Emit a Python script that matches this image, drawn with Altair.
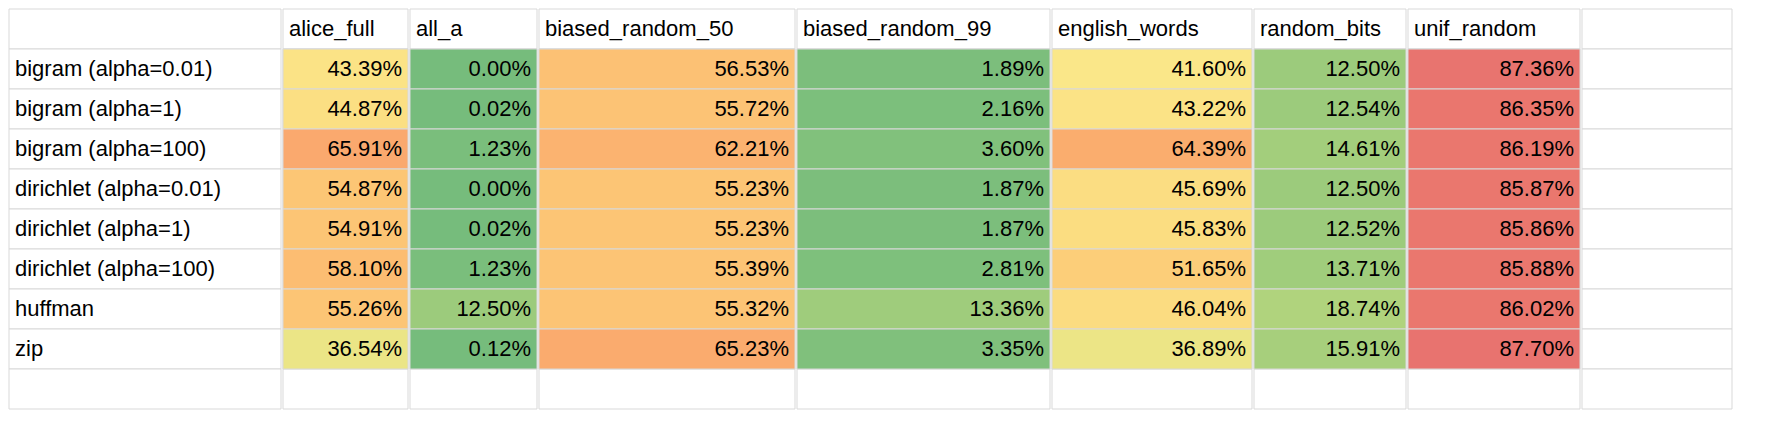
import altair as alt
import pandas as pd

rows = ["bigram (alpha=0.01)", "bigram (alpha=1)", "bigram (alpha=100)",
        "dirichlet (alpha=0.01)", "dirichlet (alpha=1)", "dirichlet (alpha=100)",
        "huffman", "zip"]
columns = ["alice_full", "all_a", "biased_random_50", "biased_random_99",
           "english_words", "random_bits", "unif_random"]
values = {
    "alice_full": [43.39, 44.87, 65.91, 54.87, 54.91, 58.10, 55.26, 36.54],
    "all_a": [0.00, 0.02, 1.23, 0.00, 0.02, 1.23, 12.50, 0.12],
    "biased_random_50": [56.53, 55.72, 62.21, 55.23, 55.23, 55.39, 55.32, 65.23],
    "biased_random_99": [1.89, 2.16, 3.60, 1.87, 1.87, 2.81, 13.36, 3.35],
    "english_words": [41.60, 43.22, 64.39, 45.69, 45.83, 51.65, 46.04, 36.89],
    "random_bits": [12.50, 12.54, 14.61, 12.50, 12.52, 13.71, 18.74, 15.91],
    "unif_random": [87.36, 86.35, 86.19, 85.87, 85.86, 85.88, 86.02, 87.70],
}
col_widths = [125, 127, 256, 253, 200, 152, 172]
label_width = 272
extra_width = 150

order = ["_header"] + rows + ["_blank"]
FONT = "Liberation Sans"
FS = 22
H = 400
yscale = alt.Scale(domain=order, paddingInner=0, paddingOuter=0)
cscale = alt.Scale(domain=[0, 41, 87.7], range=["#76BC7C", "#FAE98A", "#E8736F"])

def panel(df, w, header_text, kind):
    base = alt.Chart(df).encode(y=alt.Y("row:N", scale=yscale, axis=None))
    bg = base.mark_rect(fill="white", stroke="#D9D9D9", strokeWidth=1)
    layers = [bg]
    if kind == "value":
        colored = alt.Chart(df[df["val"].notna()]).mark_rect(stroke="#D9D9D9", strokeWidth=1).encode(
            y=alt.Y("row:N", scale=yscale, axis=None),
            color=alt.Color("val:Q", scale=cscale, legend=None))
        txt = alt.Chart(df[df["val"].notna()]).mark_text(
            align="right", font=FONT, fontSize=FS, color="black").encode(
            y=alt.Y("row:N", scale=yscale, axis=None), x=alt.value(w - 6), text="label:N")
        layers += [colored, txt]
    if kind == "label":
        txt = alt.Chart(df[df["label"] != ""]).mark_text(
            align="left", font=FONT, fontSize=FS, color="black").encode(
            y=alt.Y("row:N", scale=yscale, axis=None), x=alt.value(6), text="label:N")
        layers.append(txt)
    if header_text:
        htxt = alt.Chart(pd.DataFrame({"row": ["_header"], "label": [header_text]})).mark_text(
            align="left", font=FONT, fontSize=FS, color="black").encode(
            y=alt.Y("row:N", scale=yscale, axis=None), x=alt.value(6), text="label:N")
        layers.append(htxt)
    return alt.layer(*layers).properties(width=w, height=H)

panels = []
lab = pd.DataFrame({"row": order, "label": [""] + rows + [""]})
panels.append(panel(lab, label_width, "", "label"))
for c, w in zip(columns, col_widths):
    vals = [None] + values[c] + [None]
    df = pd.DataFrame({"row": order, "val": vals,
                       "label": ["" if v is None else f"{v:.2f}%" for v in vals]})
    panels.append(panel(df, w, c, "value"))
empty = pd.DataFrame({"row": order, "label": [""] * len(order)})
panels.append(panel(empty, extra_width, "", "none"))

chart = alt.hconcat(*panels, spacing=0).resolve_scale(color="shared").properties(
    padding=0).configure_view(stroke=None).configure_concat(spacing=0)
chart.save("out.html", embed_options={"renderer": "svg", "actions": False})
